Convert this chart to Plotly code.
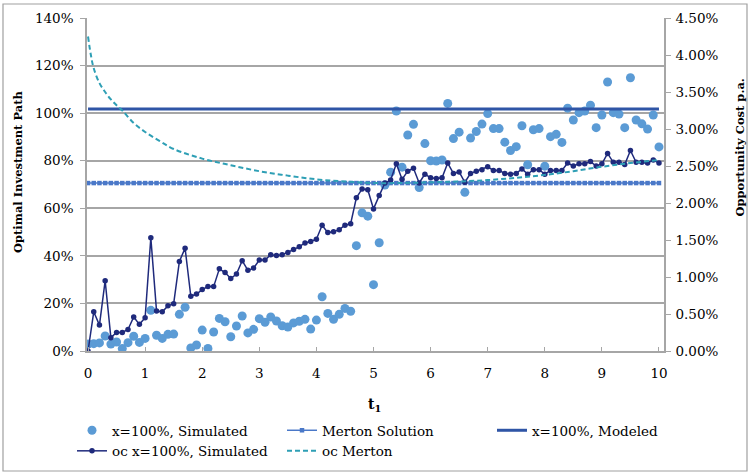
import plotly.graph_objects as go

# ---- data ----
t = [0.0, 0.1, 0.2, 0.3, 0.4, 0.5, 0.6, 0.7, 0.8, 0.9,
     1.0, 1.1, 1.2, 1.3, 1.4, 1.5, 1.6, 1.7, 1.8, 1.9,
     2.0, 2.1, 2.2, 2.3, 2.4, 2.5, 2.6, 2.7, 2.8, 2.9,
     3.0, 3.1, 3.2, 3.3, 3.4, 3.5, 3.6, 3.7, 3.8, 3.9,
     4.0, 4.1, 4.2, 4.3, 4.4, 4.5, 4.6, 4.7, 4.8, 4.9,
     5.0, 5.1, 5.2, 5.3, 5.4, 5.5, 5.6, 5.7, 5.8, 5.9,
     6.0, 6.1, 6.2, 6.3, 6.4, 6.5, 6.6, 6.7, 6.8, 6.9,
     7.0, 7.1, 7.2, 7.3, 7.4, 7.5, 7.6, 7.7, 7.8, 7.9,
     8.0, 8.1, 8.2, 8.3, 8.4, 8.5, 8.6, 8.7, 8.8, 8.9,
     9.0, 9.1, 9.2, 9.3, 9.4, 9.5, 9.6, 9.7, 9.8, 9.9, 10.0]

# x=100%, Simulated (optimal investment path, %)
x_simulated = [2.9, 3.1, 3.4, 6.3, 2.9, 3.8, 1.0, 3.5, 6.2, 3.6,
               5.3, 17.1, 6.6, 5.3, 7.0, 7.1, 15.4, 18.4, 1.3, 2.5,
               8.8, 1.1, 8.0, 13.7, 12.3, 6.0, 10.5, 14.7, 7.6, 9.1,
               13.6, 12.1, 14.3, 12.6, 10.6, 10.1, 11.8, 12.5, 13.3, 9.2,
               13.0, 22.8, 15.8, 13.3, 15.4, 17.9, 16.7, 44.3, 58.1, 56.7,
               27.9, 45.5, 69.8, 75.2, 100.9, 77.3, 90.8, 95.3, 68.7, 87.2,
               80.0, 79.9, 80.3, 104.1, 89.3, 92.0, 66.7, 89.5, 92.3, 95.4,
               99.8, 93.5, 93.5, 87.8, 84.3, 85.9, 94.7, 78.3, 93.0, 93.5,
               77.7, 90.1, 91.1, 87.7, 102.1, 97.1, 100.2, 100.9, 103.3, 93.9,
               99.2, 113.1, 100.2, 99.6, 93.9, 114.9, 97.1, 95.5, 93.3, 99.2, 85.8]

merton_solution = 70.6      # %
x_modeled = 101.7           # %

# oc x=100%, Simulated (opportunity cost, % p.a.)
oc_simulated = [0.00, 0.53, 0.35, 0.95, 0.18, 0.25, 0.25, 0.29, 0.46, 0.36,
                0.45, 1.53, 0.54, 0.53, 0.61, 0.64, 1.21, 1.39, 0.74, 0.77,
                0.83, 0.87, 0.87, 1.11, 1.06, 0.98, 1.04, 1.22, 1.09, 1.12,
                1.23, 1.23, 1.30, 1.29, 1.30, 1.33, 1.37, 1.41, 1.46, 1.48,
                1.51, 1.70, 1.60, 1.61, 1.64, 1.70, 1.72, 2.07, 2.19, 2.18,
                1.92, 2.10, 2.27, 2.31, 2.53, 2.32, 2.43, 2.47, 2.27, 2.39,
                2.34, 2.33, 2.34, 2.54, 2.40, 2.42, 2.28, 2.40, 2.43, 2.45,
                2.49, 2.44, 2.44, 2.40, 2.39, 2.40, 2.46, 2.39, 2.45, 2.45,
                2.39, 2.44, 2.44, 2.44, 2.54, 2.50, 2.53, 2.53, 2.56, 2.50,
                2.53, 2.67, 2.55, 2.55, 2.52, 2.71, 2.55, 2.55, 2.54, 2.58, 2.54]

# oc Merton (opportunity cost, % p.a.)
t_oc_merton = [0.0, 0.05, 0.1, 0.2, 0.3, 0.4, 0.5, 0.6, 0.8, 1.0,
               1.25, 1.5, 2.0, 2.5, 3.0, 3.5, 4.0, 4.5, 5.0, 5.5,
               6.0, 6.5, 7.0, 7.5, 8.0, 8.5, 9.0, 9.5, 10.0]
oc_merton = [4.25, 4.00, 3.82, 3.62, 3.50, 3.40, 3.32, 3.25, 3.08, 2.96,
             2.84, 2.73, 2.60, 2.51, 2.43, 2.37, 2.32, 2.29, 2.27, 2.27,
             2.28, 2.29, 2.31, 2.34, 2.38, 2.43, 2.49, 2.54, 2.58]

y_ticks = [0, 20, 40, 60, 80, 100, 120, 140]
y_ticklabels = ["0%", "20%", "40%", "60%", "80%", "100%", "120%", "140%"]
y2_ticks = [0, 0.5, 1.0, 1.5, 2.0, 2.5, 3.0, 3.5, 4.0, 4.5]
y2_ticklabels = ["0.00%", "0.50%", "1.00%", "1.50%", "2.00%", "2.50%",
                 "3.00%", "3.50%", "4.00%", "4.50%"]
x_ticks = [0, 1, 2, 3, 4, 5, 6, 7, 8, 9, 10]

FONT = "DejaVu Serif"
FS = 13.5
GRID = "#A6A6A6"

fig = go.Figure()

fig.add_trace(go.Scatter(
    x=t, y=x_simulated, name="x=100%, Simulated", mode="markers",
    marker=dict(color="#5B9BD5", size=9), yaxis="y"))

fig.add_trace(go.Scatter(
    x=t, y=[merton_solution] * len(t), name="Merton Solution", mode="lines+markers",
    line=dict(color="#4A78C8", width=1.5),
    marker=dict(color="#4A78C8", size=4.5, symbol="square"), yaxis="y"))

fig.add_trace(go.Scatter(
    x=[t[0], t[-1]], y=[x_modeled, x_modeled], name="x=100%, Modeled", mode="lines",
    line=dict(color="#2F55A6", width=3), yaxis="y"))

fig.add_trace(go.Scatter(
    x=t, y=oc_simulated, name="oc x=100%, Simulated", mode="lines+markers",
    line=dict(color="#1F2A7C", width=1.5),
    marker=dict(color="#1F2A7C", size=5.5), yaxis="y2"))

fig.add_trace(go.Scatter(
    x=t_oc_merton, y=oc_merton, name="oc Merton", mode="lines",
    line=dict(color="#2E9FB5", width=2, dash="5px,3px", shape="spline"), yaxis="y2"))

L, R, T, B = 87, 86, 18, 122
W, H = 750, 473
pw, ph = W - L - R, H - T - B


def px_x(p):
    return (p - L) / pw


def px_y(p):
    return (H - B - p) / ph


fig.update_layout(
    width=W, height=H,
    margin=dict(l=L, r=R, t=T, b=B, autoexpand=False),
    paper_bgcolor="white", plot_bgcolor="white",
    font=dict(family=FONT, size=FS, color="#000000"),
    showlegend=True,
    legend=dict(orientation="h", x=px_x(72), xanchor="left", y=px_y(415), yanchor="top",
                entrywidth=165, entrywidthmode="pixels",
                font=dict(family=FONT, size=FS), bgcolor="rgba(0,0,0,0)",
                traceorder="normal", itemwidth=30),
    xaxis=dict(range=[-0.018, 10.088], tickvals=x_ticks, ticks="inside", ticklen=4,
               tickcolor=GRID, showgrid=False, zeroline=False, showline=True,
               linecolor=GRID, linewidth=1.5, tickfont=dict(family=FONT, size=FS),
               ticklabelstandoff=9),
    yaxis=dict(range=[0, 140], tickvals=y_ticks, ticktext=y_ticklabels,
               ticks="outside", ticklen=5, tickcolor=GRID, showgrid=True,
               gridcolor=GRID, gridwidth=1.5, zeroline=False, showline=True,
               linecolor=GRID, linewidth=1.5, tickfont=dict(family=FONT, size=FS),
               ticklabelstandoff=4),
    yaxis2=dict(range=[0, 4.5], tickvals=y2_ticks, ticktext=y2_ticklabels,
                overlaying="y", side="right", ticks="outside", ticklen=5,
                tickcolor=GRID, showgrid=False, zeroline=False, showline=True,
                linecolor=GRID, linewidth=1.5, tickfont=dict(family=FONT, size=FS),
                ticklabelstandoff=2),
    annotations=[
        dict(text="<b>Optimal Investment Path</b>", x=px_x(18), y=px_y(172),
             xref="paper", yref="paper", textangle=-90, showarrow=False,
             xanchor="center", yanchor="middle",
             font=dict(family=FONT, size=11.5)),
        dict(text="<b>Opportunity Cost p.a.</b>", x=px_x(739.5), y=px_y(148),
             xref="paper", yref="paper", textangle=-90, showarrow=False,
             xanchor="center", yanchor="middle",
             font=dict(family=FONT, size=11.5)),
        dict(text="<b>t<sub>1</sub></b>", x=px_x(374), y=px_y(405),
             xref="paper", yref="paper", showarrow=False,
             xanchor="center", yanchor="middle",
             font=dict(family=FONT, size=14)),
    ],
    shapes=[dict(type="rect", xref="paper", yref="paper",
                 x0=px_x(3), x1=px_x(747), y0=px_y(471), y1=px_y(4),
                 line=dict(color="#A0A0A0", width=1.2), layer="below")],
)

fig.write_html("out.html")
